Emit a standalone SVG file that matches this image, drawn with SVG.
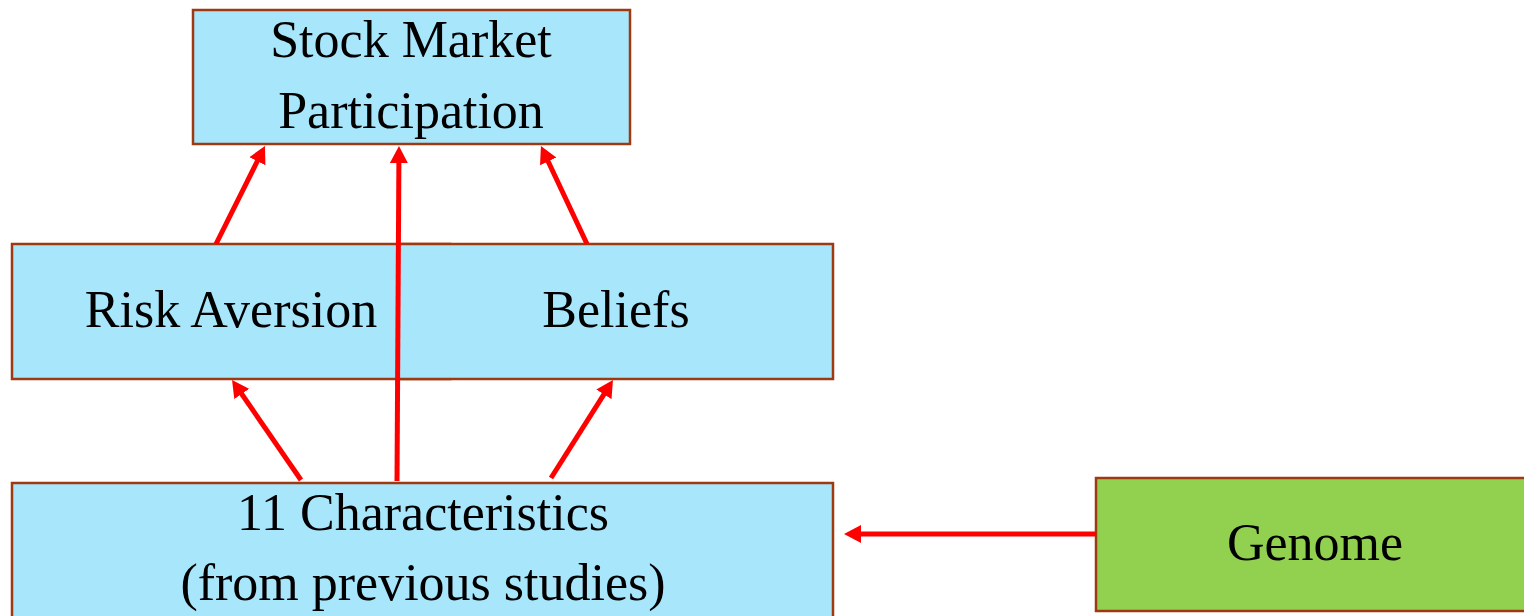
<svg xmlns="http://www.w3.org/2000/svg" width="1524" height="616" viewBox="0 0 1524 616">
  <style>
    .box { fill: #A8E6FC; stroke: #9E3A12; stroke-width: 2.5; }
    .gene { fill: #92D050; stroke: #9E3A12; stroke-width: 2.5; }
    .lbl { font-family: "Liberation Serif", "Times New Roman", serif; font-size: 52px; fill: #000; text-anchor: middle; }
    .arrow { stroke: #FF0000; stroke-width: 5; fill: none; marker-end: url(#head); }
  </style>
  <defs>
    <marker id="head" markerUnits="userSpaceOnUse" viewBox="0 0 17 18" markerWidth="17" markerHeight="18" refX="3" refY="9" orient="auto">
      <path d="M0,0 L17,9 L0,18 z" fill="#FF0000"/>
    </marker>
  </defs>
  <rect width="1524" height="616" fill="#fff"/>

  <g id="stock-market">
    <rect class="box" x="193" y="10" width="437" height="134"/>
    <text class="lbl" x="411" y="57">Stock Market</text>
    <text class="lbl" x="411" y="128">Participation</text>
  </g>

  <g id="risk-aversion">
    <rect class="box" x="12" y="244" width="438" height="135"/>
    <text class="lbl" x="231" y="327">Risk Aversion</text>
  </g>

  <g id="beliefs">
    <rect class="box" x="398" y="244" width="435" height="135"/>
    <text class="lbl" x="616" y="327">Beliefs</text>
  </g>

  <g id="characteristics">
    <rect class="box" x="12" y="483" width="821" height="140"/>
    <text class="lbl" x="423" y="530">11 Characteristics</text>
    <text class="lbl" x="423" y="600">(from previous studies)</text>
  </g>

  <g id="genome">
    <rect class="gene" x="1096" y="478" width="440" height="133"/>
    <text class="lbl" x="1315" y="560">Genome</text>
  </g>

  <g id="connectors">
    <line class="arrow" x1="216" y1="244" x2="258.7" y2="158.5"/>
    <line class="arrow" x1="397" y1="481" x2="398.9" y2="160"/>
    <line class="arrow" x1="587" y1="244" x2="546.9" y2="158.7"/>
    <line class="arrow" x1="301" y1="480" x2="240" y2="391.5"/>
    <line class="arrow" x1="551" y1="478" x2="605.5" y2="391.8"/>
    <line class="arrow" x1="1096" y1="534" x2="858" y2="534"/>
  </g>
</svg>
